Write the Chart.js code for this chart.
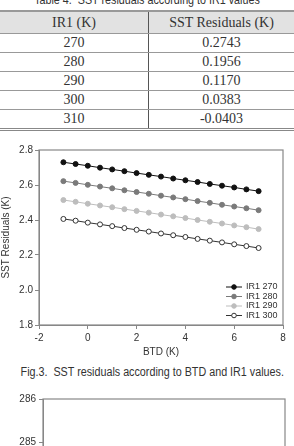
<!DOCTYPE html>
<html>
<head>
<meta charset="utf-8">
<script src="https://cdn.jsdelivr.net/npm/chart.js@4.4.1/dist/chart.umd.min.js"></script>
<style>
  body { margin: 0; width: 294px; height: 446px; overflow: hidden; background: #fff; position: relative; }
  .title { position: absolute; left: 0; width: 294px; text-align: center; white-space: nowrap;
           font-family: "Liberation Sans", Arial, sans-serif; color: #333; transform: scaleX(0.86); }
  #tblTitle { top: -7px; font-size: 12.5px; }
  #caption { top: 365px; font-size: 12.5px; }
  table { position: absolute; top: 10px; left: 0; width: 294px; border-collapse: collapse;
          font-family: "Liberation Serif", "Times New Roman", serif; font-size: 14px; color: #333; }
  table th, table td { text-align: center; padding: 0; border-bottom: 1px solid #999; }
  table th { font-weight: normal; height: 21px; background: #e2e2e2; border-top: 2px solid #999; }
  table td { height: 18px; }
  table tr > :first-child { border-right: 1px solid #555; width: 148px; }
  table tr:last-child td { border-bottom: 3px double #888; }
  #c1 { position: absolute; left: 0; top: 140px; }
  #c2 { position: absolute; left: 0; top: 390px; }
</style>
</head>
<body>
<div class="title" id="tblTitle">Table 4.&nbsp; SST residuals according to IR1 values</div>
<table id="tbl">
  <thead><tr><th>IR1 (K)</th><th>SST Residuals (K)</th></tr></thead>
  <tbody></tbody>
</table>
<canvas id="c1" width="294" height="222"></canvas>
<div class="title" id="caption">Fig.3.&nbsp; SST residuals according to BTD and IR1 values.</div>
<canvas id="c2" width="294" height="168"></canvas>
<script>
// table values
const ir1Values = [270, 280, 290, 300, 310];
const residuals = ['0.2743', '0.1956', '0.1170', '0.0383', '-0.0403'];

// chart data
const btd = [-1, -0.5, 0, 0.5, 1, 1.5, 2, 2.5, 3, 3.5, 4, 4.5, 5, 5.5, 6, 6.5, 7];
const ir1_270 = [2.730, 2.720, 2.710, 2.699, 2.689, 2.679, 2.668, 2.658, 2.648, 2.637, 2.627, 2.617, 2.606, 2.596, 2.586, 2.575, 2.565];
const ir1_280 = [2.622, 2.612, 2.601, 2.591, 2.581, 2.570, 2.560, 2.550, 2.539, 2.529, 2.519, 2.508, 2.498, 2.487, 2.477, 2.467, 2.456];
const ir1_290 = [2.514, 2.504, 2.493, 2.483, 2.473, 2.462, 2.452, 2.442, 2.431, 2.421, 2.411, 2.400, 2.390, 2.380, 2.369, 2.359, 2.348];
const ir1_300 = [2.406, 2.396, 2.385, 2.375, 2.365, 2.354, 2.344, 2.334, 2.323, 2.313, 2.303, 2.292, 2.282, 2.272, 2.261, 2.251, 2.240];
const seriesNames = ['IR1 270', 'IR1 280', 'IR1 290', 'IR1 300'];

const tbody = document.querySelector('#tbl tbody');
ir1Values.forEach((v, i) => {
    const tr = document.createElement('tr');
    tr.innerHTML = '<td>' + v + '</td><td>' + residuals[i] + '</td>';
    tbody.appendChild(tr);
});

Chart.defaults.font.family = '"Liberation Sans", Arial, sans-serif';
Chart.defaults.color = '#333';
Chart.defaults.animation = false;

// box round the plot area
const boxPlugin = {
    id: 'box',
    afterDraw(chart) {
        const a = chart.chartArea, ctx = chart.ctx;
        ctx.save();
        ctx.strokeStyle = '#888';
        ctx.lineWidth = 1.2;
        ctx.strokeRect(a.left, a.top, a.right - a.left, a.bottom - a.top);
        ctx.restore();
    }
};

// legend inside, bottom right
const innerLegend = {
    id: 'innerLegend',
    afterDatasetsDraw(chart) {
        const ctx = chart.ctx, a = chart.chartArea;
        ctx.save();
        ctx.font = '9px "Liberation Sans", Arial, sans-serif';
        ctx.textBaseline = 'middle';
        chart.data.datasets.forEach((ds, i) => {
            const y = a.bottom - 38 + i * 9.5;
            const x0 = a.left + 187;
            ctx.strokeStyle = ds.borderColor;
            ctx.lineWidth = 1;
            ctx.beginPath(); ctx.moveTo(x0, y); ctx.lineTo(x0 + 16, y); ctx.stroke();
            ctx.beginPath(); ctx.arc(x0 + 8, y, 2.3, 0, Math.PI * 2);
            ctx.fillStyle = ds.pointBackgroundColor; ctx.fill();
            ctx.strokeStyle = ds.pointBorderColor; ctx.stroke();
            ctx.fillStyle = '#333';
            ctx.fillText(ds.label, x0 + 20, y);
        });
        ctx.restore();
    }
};

const colors = ['#111', '#7a7a7a', '#bdbdbd', '#333'];
const fills = ['#111', '#7a7a7a', '#bdbdbd', '#fff'];
const allSeries = [ir1_270, ir1_280, ir1_290, ir1_300];

const ctx1 = document.getElementById('c1').getContext('2d');
const chart1 = new Chart(ctx1, {
    type: 'line',
    data: {
        datasets: allSeries.map((s, i) => ({
            label: seriesNames[i],
            data: btd.map((x, j) => ({ x: x, y: s[j] })),
            borderColor: colors[i],
            borderWidth: 1,
            pointRadius: 2.5,
            pointBackgroundColor: fills[i],
            pointBorderColor: colors[i],
            pointBorderWidth: 1
        }))
    },
    options: {
        responsive: false,
        layout: { padding: { top: 10, right: 11 } },
        plugins: { legend: { display: false }, tooltip: { enabled: false } },
        scales: {
            x: {
                type: 'linear', min: -2, max: 8,
                afterFit(s) { s.height = 37; },
                ticks: { stepSize: 2, font: { size: 10 }, padding: 3 },
                grid: { drawOnChartArea: false, tickLength: 4, color: '#888' },
                border: { color: '#888' },
                title: { display: true, text: 'BTD (K)', font: { size: 10 }, padding: { top: 2 } }
            },
            y: {
                min: 1.8, max: 2.8,
                afterFit(s) { s.width = 39; },
                ticks: { stepSize: 0.2, font: { size: 10 }, padding: 2, callback: v => v.toFixed(1) },
                grid: { drawOnChartArea: false, tickLength: 4, color: '#888' },
                border: { color: '#888' },
                title: { display: true, text: 'SST Residuals (K)', font: { size: 10 }, padding: 0 }
            }
        }
    },
    plugins: [boxPlugin, innerLegend]
});

// second figure, only its top shows
const temps2 = [];
const ctx2 = document.getElementById('c2').getContext('2d');
const chart2 = new Chart(ctx2, {
    type: 'line',
    data: { datasets: [{ data: temps2 }] },
    options: {
        responsive: false,
        layout: { padding: { top: 9, right: 9 } },
        plugins: { legend: { display: false }, tooltip: { enabled: false } },
        scales: {
            x: {
                type: 'linear', min: 0, max: 10,
                afterFit(s) { s.height = 30; },
                ticks: { display: false },
                grid: { drawOnChartArea: false, color: '#888' },
                border: { color: '#888' }
            },
            y: {
                min: 283, max: 286,
                afterFit(s) { s.width = 43; },
                ticks: { stepSize: 1, font: { size: 10 }, padding: 3 },
                grid: { drawOnChartArea: false, tickLength: 4, color: '#888' },
                border: { color: '#888' }
            }
        }
    },
    plugins: [boxPlugin]
});
</script>
</body>
</html>
